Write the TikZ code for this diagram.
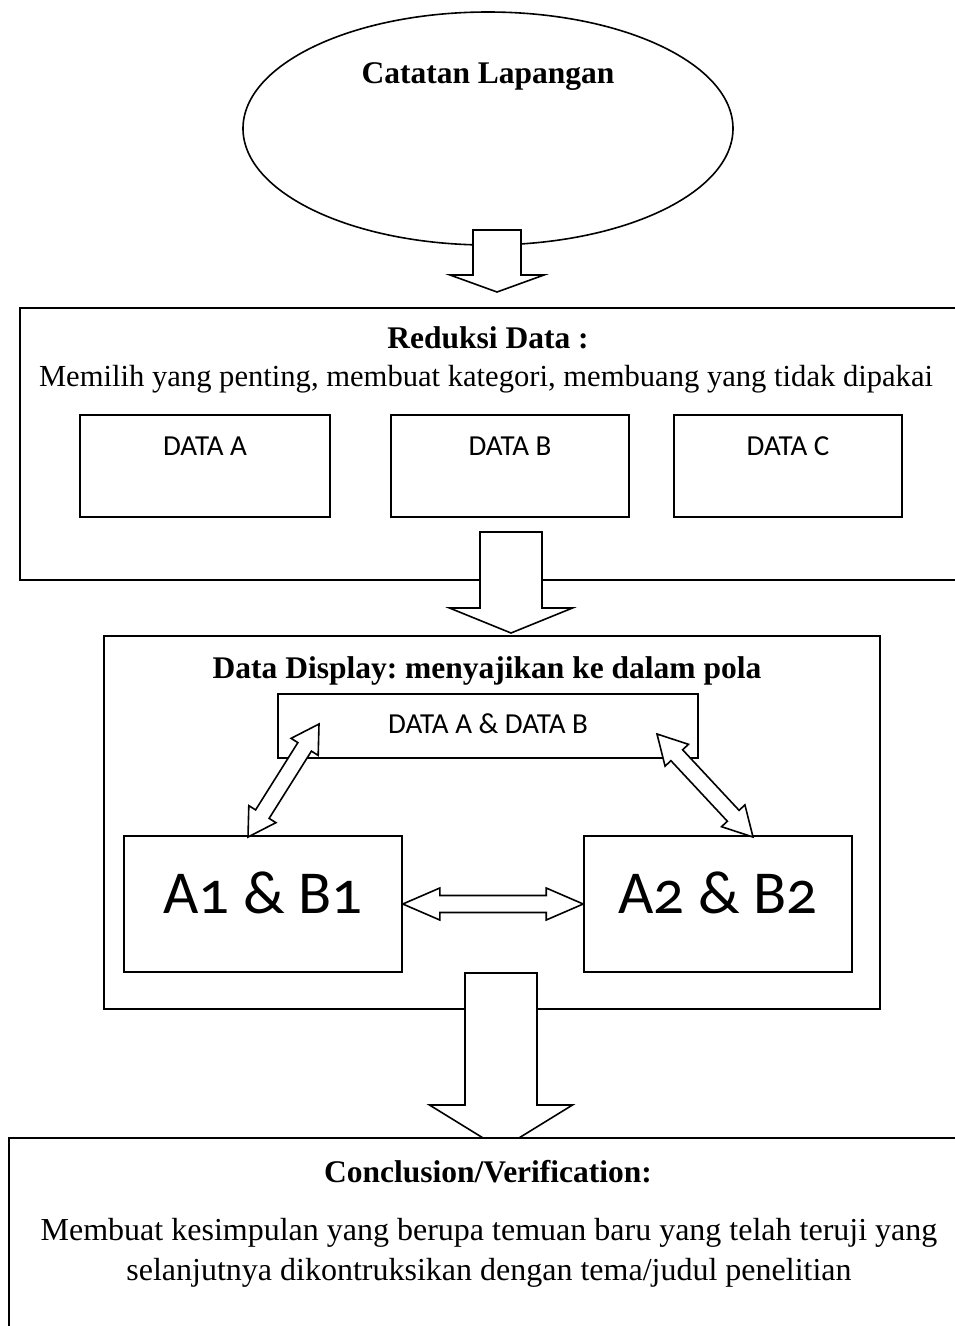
\documentclass[tikz,border=0pt]{standalone}
\usepackage{fontspec}
\setmainfont{Liberation Serif}
\newfontfamily\calibri{Carlito}
\newfontfamily\calibrinum{Carlito}[Numbers=OldStyle]
\usepackage{tikz}
\usetikzlibrary{calc}
\usetikzlibrary{shapes.geometric}
\frenchspacing
\tikzset{
    box nodes/.style={
        draw,
        fill=white,
        line width=1.6pt,
        inner sep=0pt
    },
    block arrow/.style={
        draw,
        fill=white,
        line width=1.6pt,
        line join=miter
    },
    serif text/.style={
        font=\fontsize{30.6}{40}\selectfont,
        anchor=base
    },
    title text/.style={
        serif text,
        font=\fontsize{31.5}{40}\selectfont\bfseries
    },
    sans text/.style={
        font=\calibri\fontsize{29}{34}\selectfont,
        anchor=base
    },
    big text/.style={
        font=\calibrinum\fontsize{61}{70}\selectfont,
        anchor=base
    }
}
% #1 tail, #2 tip, #3 half shaft, #4 half head, #5 head length
\newcommand{\singleblock}[5]{%
    \draw[block arrow] let \p1=(#1), \p2=(#2), \n1={veclen(\x2-\x1,\y2-\y1)},
          \n2={(\x2-\x1)/\n1}, \n3={(\y2-\y1)/\n1} in
      ({\x1-#3*(\n3)},{\y1+#3*(\n2)}) --
      ({\x2-#5*(\n2)-#3*(\n3)},{\y2-#5*(\n3)+#3*(\n2)}) --
      ({\x2-#5*(\n2)-#4*(\n3)},{\y2-#5*(\n3)+#4*(\n2)}) --
      (\p2) --
      ({\x2-#5*(\n2)+#4*(\n3)},{\y2-#5*(\n3)-#4*(\n2)}) --
      ({\x2-#5*(\n2)+#3*(\n3)},{\y2-#5*(\n3)-#3*(\n2)}) --
      ({\x1+#3*(\n3)},{\y1-#3*(\n2)}) -- cycle;}
\newcommand{\doubleblock}[5]{%
    \draw[block arrow] let \p1=(#1), \p2=(#2), \n1={veclen(\x2-\x1,\y2-\y1)},
          \n2={(\x2-\x1)/\n1}, \n3={(\y2-\y1)/\n1} in
      (\p1) --
      ({\x1+#5*(\n2)-#4*(\n3)},{\y1+#5*(\n3)+#4*(\n2)}) --
      ({\x1+#5*(\n2)-#3*(\n3)},{\y1+#5*(\n3)+#3*(\n2)}) --
      ({\x2-#5*(\n2)-#3*(\n3)},{\y2-#5*(\n3)+#3*(\n2)}) --
      ({\x2-#5*(\n2)-#4*(\n3)},{\y2-#5*(\n3)+#4*(\n2)}) --
      (\p2) --
      ({\x2-#5*(\n2)+#4*(\n3)},{\y2-#5*(\n3)-#4*(\n2)}) --
      ({\x2-#5*(\n2)+#3*(\n3)},{\y2-#5*(\n3)-#3*(\n2)}) --
      ({\x1+#5*(\n2)+#3*(\n3)},{\y1+#5*(\n3)-#3*(\n2)}) --
      ({\x1+#5*(\n2)+#4*(\n3)},{\y1+#5*(\n3)-#4*(\n2)}) -- cycle;}

\begin{document}
\begin{tikzpicture}[x=1pt,y=-1pt]
            \useasboundingbox (0,0) rectangle (955,1326);
            \clip (0,0) rectangle (955,1326);
            \node[box nodes, ellipse, minimum width=490pt, minimum height=233pt] (catatan) at (488,128.5) {};
            \node[title text] (catatan-title) at (488,83) {Catatan Lapangan};
            \coordinate (catatan-out) at (497,230);
            \coordinate (reduksi-in) at (497,292);
            \singleblock{catatan-out}{reduksi-in}{24}{47}{17}
            % reduksi
            \node[box nodes, minimum width=980pt, minimum height=272pt] (reduksi) at (510,444) {};
            \node[title text] (reduksi-title) at (488,348) {Reduksi Data :};
            \node[serif text] (reduksi-text) at (486,386) {Memilih yang penting, membuat kategori, membuang yang tidak dipakai};
            \foreach \n/\x/\w in {A/205/250,B/510/238,C/788/228}{
              \node[box nodes, minimum width=\w pt, minimum height=102pt] (data\n) at (\x,466) {};
              \node[sans text] (data\n-label) at (\x,455) {DATA \n};
            }
            \coordinate (reduksi-out) at (511,532);
            \coordinate (display-in) at (511,633);
            \singleblock{reduksi-out}{display-in}{31}{61.5}{25}
            % display
            \node[box nodes, minimum width=776pt, minimum height=373pt] (display) at (492,822.5) {};
            \node[title text] (display-title) at (487,678) {Data Display: menyajikan ke dalam pola};
            \node[box nodes, minimum width=420pt, minimum height=64pt] (dataAB) at (488,726) {};
            \node[sans text] (dataAB-label) at (488,733) {DATA A \& DATA B};
            \node[box nodes, minimum width=278pt, minimum height=136pt] (ab1) at (263,904) {};
            \node[big text] (ab1-label) at (263,913) {A1 \& B1};
            \node[box nodes, minimum width=268pt, minimum height=136pt] (ab2) at (718,904) {};
            \node[big text] (ab2-label) at (718,913) {A2 \& B2};
            \coordinate (ab1-up) at (248,837);
            \coordinate (dataAB-left) at (319,724);
            \coordinate (dataAB-right) at (657,734);
            \coordinate (ab2-up) at (753,837);
            \doubleblock{ab1-up}{dataAB-left}{8}{16}{27}
            \doubleblock{dataAB-right}{ab2-up}{8}{16}{29}
            \doubleblock{ab1.east}{ab2.west}{8.5}{16}{37}
            \coordinate (display-out) at (501,973);
            \coordinate (concl-in) at (501,1149);
            \singleblock{display-out}{concl-in}{36}{71.5}{44}
            % conclusion
            \node[box nodes, minimum width=991pt, minimum height=262pt] (concl) at (504.5,1269) {};
            \node[title text] (concl-title) at (488,1182) {Conclusion/Verification:};
            \node[serif text, font=\fontsize{32}{40}\selectfont, anchor=center, align=center] (concl-text) at (489,1253) {Membuat kesimpulan yang berupa temuan baru yang telah teruji yang\\selanjutnya dikontruksikan dengan tema/judul penelitian};
\end{tikzpicture}
\end{document}
